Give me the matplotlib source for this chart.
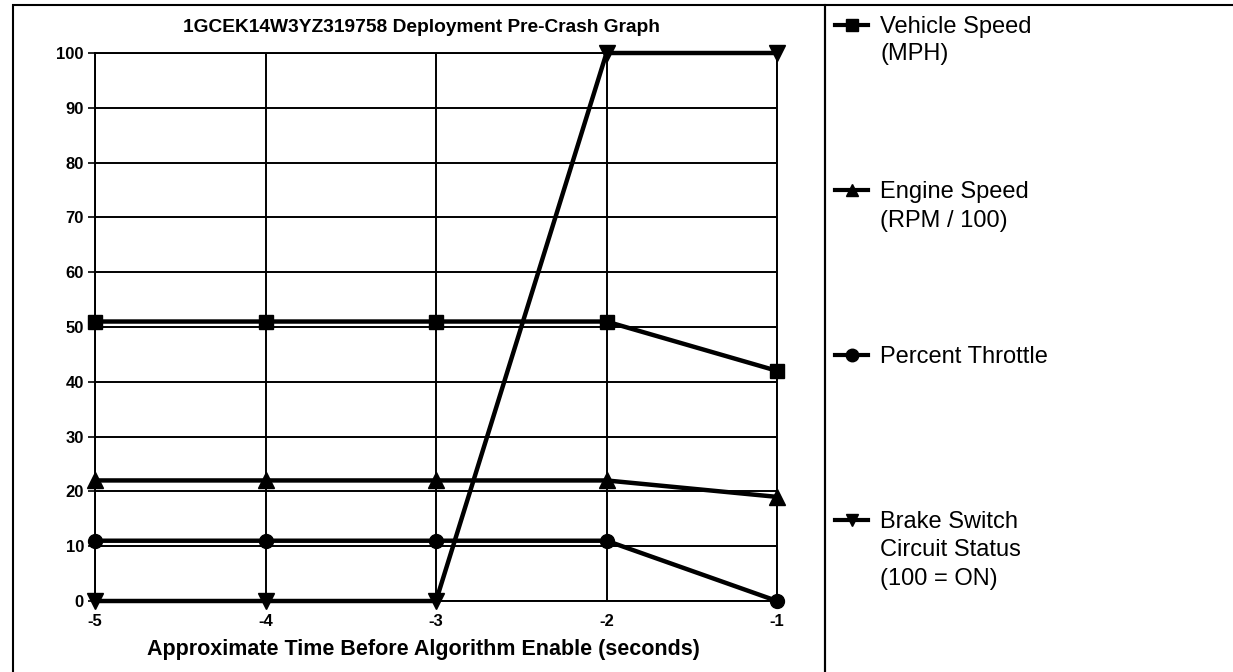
import matplotlib
matplotlib.use("Agg")
import matplotlib.pyplot as plt
from matplotlib.lines import Line2D
from matplotlib.patches import Rectangle

plt.rcParams['font.family'] = ['Liberation Sans', 'DejaVu Sans']
plt.rcParams['axes.unicode_minus'] = False

time_s = [-5, -4, -3, -2, -1]
vehicle_speed = [51, 51, 51, 51, 42]
engine_speed = [22, 22, 22, 22, 19]
throttle = [11, 11, 11, 11, 0]
brake = [0, 0, 0, 100, 100]

series_labels = ["Vehicle Speed", "Engine Speed", "Percent Throttle", "Brake Switch"]
label_extra = [["(MPH)"], ["(RPM / 100)"], [], ["Circuit Status", "(100 = ON)"]]
series_markers = ["s", "^", "o", "v"]
x_ticks = [-5, -4, -3, -2, -1]
y_ticks = list(range(0, 101, 10))

W, H = 1233, 672
fig = plt.figure(figsize=(W / 100, H / 100), dpi=100)
fig.patch.set_facecolor("white")

def fx(px):
    return px / W

def fy(py):
    return 1 - py / H

ax = fig.add_axes([fx(95), fy(601), fx(777) - fx(95), fy(53) - fy(601)])
ax.set_xlim(-5, -1)
ax.set_ylim(0, 100)
ax.set_xticks(x_ticks)
ax.set_yticks(y_ticks)
ax.grid(True, color="black", linewidth=1.4)
ax.set_axisbelow(True)
for s in ax.spines.values():
    s.set_linewidth(1.4)
ax.tick_params(axis="both", length=5, width=1.2, labelsize=12, pad=3)
ax.tick_params(axis="x", length=0, pad=9)
for lab in ax.get_xticklabels() + ax.get_yticklabels():
    lab.set_fontweight("bold")

data = [vehicle_speed, engine_speed, throttle, brake]
for vals, mk, lab in zip(data, series_markers, series_labels):
    ms = 10 if mk in ("s", "o") else 11
    ax.plot(time_s, vals, color="black", linewidth=3.2, marker=mk,
            markersize=ms, clip_on=False, zorder=5, label=lab)

fig.text(fx(421), fy(27), "1GCEK14W3YZ319758 Deployment Pre-Crash Graph",
         fontsize=13.8, fontweight="bold", ha="center", va="center")
fig.text(fx(423), fy(650), "Approximate Time Before Algorithm Enable (seconds)",
         fontsize=15.5, fontweight="bold", ha="center", va="center")

# frames
fig.patches.append(Rectangle((fx(13), fy(700)), fx(825) - fx(13), fy(5) - fy(700),
                             transform=fig.transFigure, fill=False, edgecolor="black",
                             linewidth=1.5, figure=fig))
fig.patches.append(Rectangle((fx(825), fy(700)), fx(1260) - fx(825), fy(5) - fy(700),
                             transform=fig.transFigure, fill=False, edgecolor="black",
                             linewidth=1.5, figure=fig))

leg_handles = [Line2D([], [], color="black", linewidth=3, marker=m, markersize=9)
               for m in series_markers]
fig.legend(leg_handles, series_labels, loc="upper left",
           bbox_to_anchor=(fx(835), fy(16)), frameon=False, fontsize=17,
           handlelength=1.4, handletextpad=0.5, labelspacing=6.06,
           borderpad=0, borderaxespad=0)

first_y = [25, 192, 357, 521]
for y0, extras in zip(first_y, label_extra):
    for i, t in enumerate(extras):
        fig.text(fx(880), fy(y0 + 29 * (i + 1)), t, fontsize=17, va="center", ha="left")

fig.savefig("out.png", dpi=100, facecolor="white")
